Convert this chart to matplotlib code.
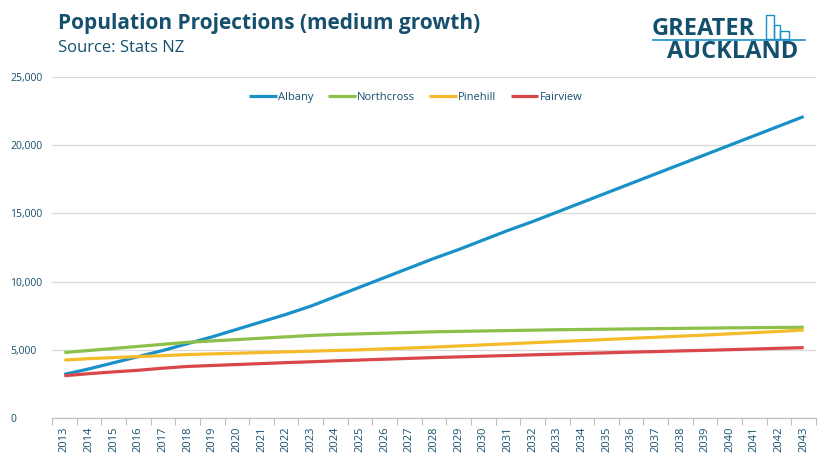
import matplotlib
matplotlib.use('Agg')
import matplotlib.pyplot as plt
from matplotlib.ticker import FuncFormatter, FixedLocator

plt.rcParams['font.family'] = ['Open Sans', 'DejaVu Sans']

years = list(range(2013, 2044))

albany = [3200, 3600, 4050, 4500, 4950, 5450, 5950, 6500, 7050, 7600,
          8200, 8900, 9600, 10300, 11000, 11700, 12350, 13050, 13750, 14400,
          15100, 15800, 16500, 17200, 17900, 18600, 19300, 20000, 20700, 21400,
          22100]
northcross = [4800, 4950, 5100, 5250, 5400, 5550, 5650, 5750, 5850, 5950,
              6050, 6120, 6170, 6220, 6270, 6320, 6350, 6380, 6410, 6440,
              6470, 6490, 6510, 6530, 6550, 6570, 6590, 6610, 6620, 6640,
              6650]
pinehill = [4250, 4350, 4430, 4500, 4570, 4650, 4700, 4750, 4800, 4850,
            4900, 4950, 5000, 5070, 5130, 5200, 5280, 5360, 5440, 5520,
            5600, 5680, 5760, 5840, 5920, 6000, 6080, 6170, 6260, 6350,
            6450]
fairview = [3100, 3250, 3380, 3500, 3650, 3780, 3850, 3920, 3990, 4060,
            4120, 4190, 4250, 4310, 4370, 4430, 4480, 4530, 4580, 4630,
            4680, 4730, 4780, 4830, 4870, 4920, 4960, 5010, 5060, 5110,
            5160]

series = [('Albany', albany, '#1a90c8'),
          ('Northcross', northcross, '#8cc04b'),
          ('Pinehill', pinehill, '#f5bb2a'),
          ('Fairview', fairview, '#d9474a')]

text_col = '#16506e'

fig = plt.figure(figsize=(8.31, 4.59), dpi=100)
ax = fig.add_axes([52/831, 1-418/459, (816-52)/831, (418-77)/459])

x = list(range(len(years)))
for name, vals, col in series:
    ax.plot(x, vals, color=col, lw=2.3, label=name, solid_capstyle='butt')

ax.set_xlim(-0.5, len(years) - 0.5)
ax.set_ylim(0, 25000)
ax.set_yticks([0, 5000, 10000, 15000, 20000, 25000])
ax.yaxis.set_major_formatter(FuncFormatter(lambda v, p: f'{int(v):,}'))
ax.set_xticks(x)
ax.set_xticklabels([str(y) for y in years], rotation=90)
ax.xaxis.set_minor_locator(FixedLocator([i - 0.5 for i in range(len(years) + 1)]))
ax.tick_params(axis='x', which='major', length=0, pad=6, labelsize=8, labelcolor=text_col)
ax.tick_params(axis='x', which='minor', length=5, color='#bfbfbf', width=0.8)
ax.tick_params(axis='y', length=0, labelsize=7.5, labelcolor=text_col)
for lab in ax.get_yticklabels():
    lab.set_horizontalalignment('left')
ax.yaxis.set_tick_params(pad=30)

ax.grid(axis='y', color='#d9d9d9', lw=0.9)
ax.set_axisbelow(True)
for s in ['top', 'right', 'left']:
    ax.spines[s].set_visible(False)
ax.spines['bottom'].set_color('#bfbfbf')
ax.spines['bottom'].set_linewidth(0.9)

# legend sits a bit left of the axes centre in the original
leg = ax.legend(loc='upper center', bbox_to_anchor=(0.476, 0.985), ncol=4, frameon=False,
                fontsize=8, handlelength=2.5, handletextpad=0.1, columnspacing=1.3)
for t in leg.get_texts():
    t.set_color(text_col)

fig.text(58/831, 1-24/459, 'Population Projections (medium growth)', fontsize=15,
         fontweight='bold', color=text_col, va='center', ha='left')
fig.text(58/831, 1-48/459, 'Source: Stats NZ', fontsize=12, color=text_col,
         va='center', ha='left')

# logo
fig.text(652/831, 1-29/459, 'GREATER', fontsize=17, fontweight='bold', color='#14506e',
         va='center', ha='left')
fig.text(667/831, 1-52/459, 'AUCKLAND', fontsize=17, fontweight='bold', color='#14506e',
         va='center', ha='left')
fig.add_artist(plt.Line2D([653/831, 805/831], [1-40/459, 1-40/459], color='#1a90c8', lw=1.2))
fig.add_artist(plt.Rectangle((766/831, 1-39/459), 8/831, 24/459, fill=False, ec='#1a90c8', lw=1))
fig.add_artist(plt.Rectangle((774/831, 1-39/459), 6/831, 14/459, fill=False, ec='#1a90c8', lw=1))
fig.add_artist(plt.Rectangle((780/831, 1-39/459), 9/831, 8/459, fill=False, ec='#1a90c8', lw=1))

fig.savefig('out.png', dpi=100)
